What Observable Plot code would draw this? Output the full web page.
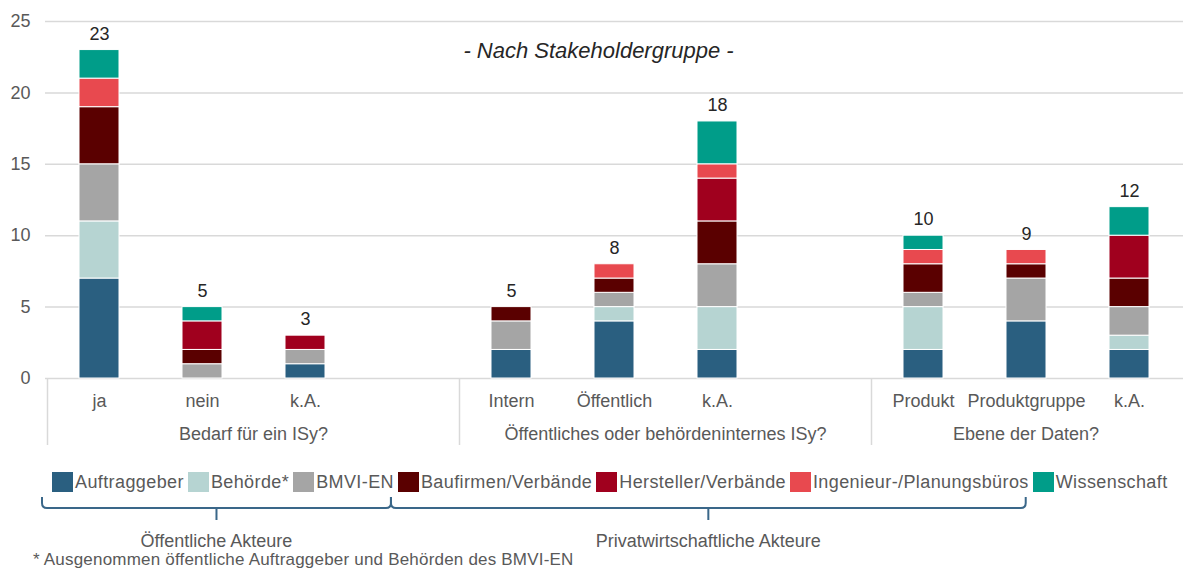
<!DOCTYPE html>
<html><head><meta charset="utf-8">
<script src="https://cdn.jsdelivr.net/npm/d3@7"></script>
<script src="https://cdn.jsdelivr.net/npm/@observablehq/plot@0.6"></script>
<style>
html,body{margin:0;padding:0;background:#fff;}
#wrap{position:relative;width:1183px;height:569px;font-family:'Liberation Sans',Arial,sans-serif;color:#595959;overflow:hidden;background:#fff;}
#wrap svg.plot{display:block;}
#legend{position:absolute;left:52px;top:472px;display:flex;align-items:center;font-size:18px;letter-spacing:0.4px;line-height:20px;white-space:nowrap;}
.item{display:flex;align-items:center;margin-right:4px;}
.sw{width:21px;height:20px;margin-right:2px;}
#brace{position:absolute;left:0;top:0;pointer-events:none;}
.glabel{position:absolute;top:532px;font-size:18px;line-height:18px;transform:translateX(-50%);white-space:nowrap;}
#foot{position:absolute;left:33px;top:551px;font-size:17px;line-height:17px;letter-spacing:0.2px;white-space:nowrap;}
</style></head><body><div id="wrap"></div>
<script>
// ---- data ----
const title = "- Nach Stakeholdergruppe -";
const groupNames = ["Bedarf für ein ISy?", "Öffentliches oder behördeninternes ISy?", "Ebene der Daten?"];
const groupCategories = [["ja", "nein", "k.A."], ["Intern", "Öffentlich", "k.A."], ["Produkt", "Produktgruppe", "k.A."]];
const groupHasGap = [true, true, false];
const seriesNames = ["Auftraggeber", "Behörde*", "BMVI-EN", "Baufirmen/Verbände", "Hersteller/Verbände", "Ingenieur-/Planungsbüros", "Wissenschaft"];
const seriesColors = ["#2a5f80", "#b6d4d2", "#a5a5a5", "#5a0000", "#a0001e", "#e8494f", "#009d89"];
// values per bar: ja, nein, k.A. | Intern, Öffentlich, k.A. | Produkt, Produktgruppe, k.A.
const auftraggeber = [7, 0, 1, 2, 4, 2, 2, 4, 2];
const behoerde     = [4, 0, 0, 0, 1, 3, 3, 0, 1];
const bmvien       = [4, 1, 1, 2, 1, 3, 1, 3, 2];
const baufirmen    = [4, 1, 0, 1, 1, 3, 2, 1, 2];
const hersteller   = [0, 2, 1, 0, 0, 3, 0, 0, 3];
const ingenieur    = [2, 0, 0, 0, 1, 1, 1, 1, 0];
const wissenschaft = [2, 1, 0, 0, 0, 3, 1, 0, 2];
const yTicks = [0, 5, 10, 15, 20, 25];
const braceGroups = [{name: "Öffentliche Akteure", from: 0, to: 2}, {name: "Privatwirtschaftliche Akteure", from: 3, to: 5}];
const footnote = "* Ausgenommen öffentliche Auftraggeber und Behörden des BMVI-EN";

// ---- build tables ----
const seriesValues = [auftraggeber, behoerde, bmvien, baufirmen, hersteller, ingenieur, wissenschaft];
const keys = [];
const groupSpans = [];
groupCategories.forEach((cats, gi) => {
  const start = keys.length;
  cats.forEach(c => keys.push(gi + "|" + c));
  if (groupHasGap[gi]) keys.push("gap" + gi);
  groupSpans.push({name: groupNames[gi], first: keys[start], last: keys[keys.length - 1]});
});
const barKeys = keys.filter(k => !k.startsWith("gap"));
const rows = [];
barKeys.forEach((k, i) => seriesNames.forEach((s, si) => {
  const v = seriesValues[si][i];
  if (v > 0) rows.push({key: k, series: s, value: v});
}));
const totals = barKeys.map((k, i) => ({key: k, total: d3.sum(seriesValues, a => a[i])}));
const fmt = k => k.startsWith("gap") ? "" : k.split("|")[1];

const FONT = "'Liberation Sans', Arial, sans-serif";
const plot = Plot.plot({
  width: 1183, height: 455,
  marginLeft: 45, marginRight: 0, marginTop: 21, marginBottom: 77,
  style: {fontFamily: FONT, fontSize: "18px", color: "#595959", background: "white", overflow: "visible"},
  x: {domain: keys, paddingInner: 0.61, paddingOuter: 0.305, align: 0.5, label: null},
  y: {domain: [0, 25], label: null},
  color: {domain: seriesNames, range: seriesColors},
  marks: [
    Plot.gridY({ticks: yTicks, stroke: "#d9d9d9", strokeOpacity: 1, strokeWidth: 1.5}),
    Plot.barY(rows, {x: "key", y: "value", fill: "series", stroke: "white", strokeWidth: 1}),
    Plot.text(totals, {x: "key", y: "total", text: d => String(d.total), dy: -16, fill: "#262626", fontSize: 18}),
    Plot.text([title], {frameAnchor: "top", lineAnchor: "middle", dy: 29, dx: -16, fontStyle: "italic", fontSize: 22, fill: "#262626"}),
    Plot.axisY({ticks: yTicks, tickSize: 0, tickPadding: 15, fontSize: 18, label: null}),
    Plot.axisX({tickSize: 0, tickPadding: 16, fontSize: 18, tickFormat: fmt, label: null})
  ]
});
plot.classList.add("plot");

// group separators and group labels from the x scale
const xs = plot.scale("x"), ys = plot.scale("y");
const bw = xs.bandwidth, off = (xs.step - bw) / 2;
const y0 = ys.apply(0);
const svg = d3.select(plot);
groupSpans.forEach(g => {
  const x1 = xs.apply(g.first) - off;
  const x2 = xs.apply(g.last) + bw + off;
  svg.append("line").attr("x1", x1).attr("x2", x1).attr("y1", y0).attr("y2", y0 + 67)
    .attr("stroke", "#d9d9d9").attr("stroke-width", 1.5);
  svg.append("text").attr("x", (x1 + x2) / 2).attr("y", y0 + 62).attr("text-anchor", "middle")
    .attr("fill", "#595959").attr("font-size", 18).attr("font-family", FONT).text(g.name);
});

const wrap = document.getElementById("wrap");
wrap.appendChild(plot);

// legend
const legend = d3.select(wrap).append("div").attr("id", "legend");
const items = legend.selectAll(".item").data(seriesNames).join("div").attr("class", "item");
items.append("div").attr("class", "sw").style("background", (d, i) => seriesColors[i]);
items.append("span").text(d => d);

// braces (adjacent braces share their junction)
const wr = wrap.getBoundingClientRect();
const itemNodes = items.nodes();
const bsvg = d3.select(wrap).append("svg").attr("id", "brace").attr("width", 1183).attr("height", 569);
let prevR = null;
braceGroups.forEach(b => {
  const a = itemNodes[b.from].getBoundingClientRect();
  const e = itemNodes[b.to].getBoundingClientRect();
  const L = prevR !== null ? prevR : a.left - wr.left - 10;
  const R = e.right - wr.left - 3;
  prevR = R;
  const c = (L + R) / 2;
  const top = 497, yl = 508, r = 5, tip = 520;
  const p = `M${L},${top} L${L},${yl - r} Q${L},${yl} ${L + r},${yl} L${R - r},${yl} Q${R},${yl} ${R},${yl - r} L${R},${top} M${c},${yl} L${c},${tip}`;
  bsvg.append("path").attr("d", p).attr("fill", "none").attr("stroke", "#3a6789").attr("stroke-width", 2);
  d3.select(wrap).append("div").attr("class", "glabel").style("left", c + "px").text(b.name);
});

d3.select(wrap).append("div").attr("id", "foot").text(footnote);
</script>
</body></html>
